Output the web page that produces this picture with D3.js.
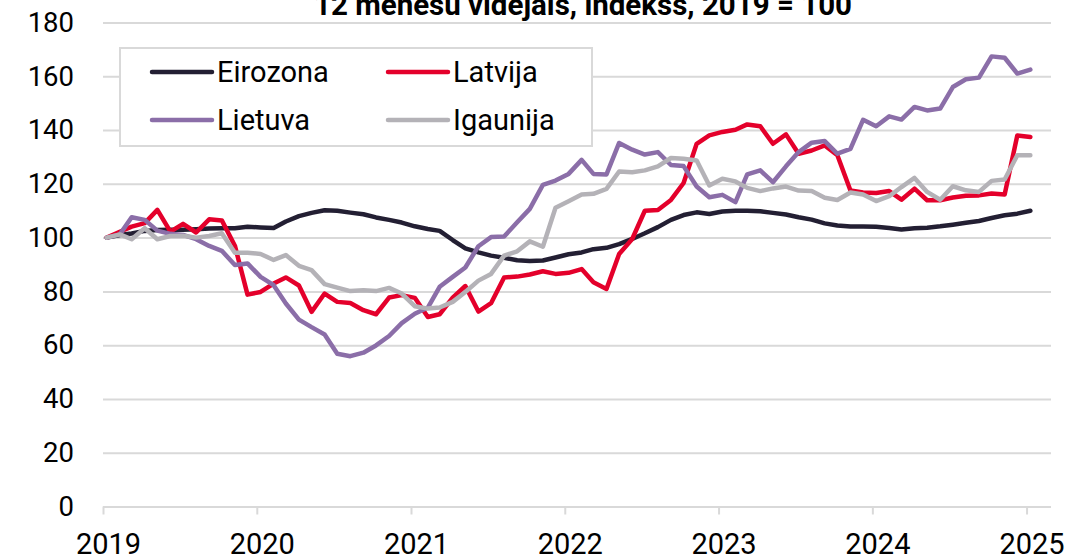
<!DOCTYPE html>
<html>
<head>
<meta charset="utf-8" />
<title>12 mēnešu vidējais</title>
<script src="https://cdn.jsdelivr.net/npm/d3@7"></script>
<style>
  body { margin: 0; background: #fff; }
  svg { display: block; font-family: Roboto, "Noto Sans", sans-serif; }
  .grid line { stroke: #d9d9d9; stroke-width: 2px; }
  .grid text { font-family: Roboto, "Noto Sans", sans-serif; font-size: 27.5px; fill: #000; }
  .xaxis text { font-family: Roboto, "Noto Sans", sans-serif; font-size: 29px; fill: #000; }
  .xaxis line { stroke: #d9d9d9; stroke-width: 2px; }
  .series { fill: none; stroke-width: 4.5px; stroke-linejoin: round; stroke-linecap: round; }
</style>
</head>
<body>
<svg id="chart" width="1092" height="558"></svg>
<script>
// monthly points, Jan 2019 .. Jan 2025
var months = d3.timeMonth.range(new Date(2019, 0, 1), new Date(2025, 1, 1));

var eirozona = [100, 101, 101.5, 102.5, 102.8, 102.9, 102.9, 103.1, 103.4, 103.5, 103.5, 104,
  103.8, 103.6, 106, 108, 109.2, 110.2, 110, 109.3, 108.7, 107.5, 106.6, 105.6,
  104.2, 103.2, 102.5, 99.1, 96, 94.5, 93.3, 92.5, 91.6, 91.3, 91.5, 92.6,
  93.8, 94.5, 95.7, 96.2, 97.6, 99.5, 101.6, 103.9, 106.6, 108.4, 109.4, 108.8,
  109.7, 110, 110, 109.8, 109.2, 108.6, 107.6, 106.7, 105.3, 104.5, 104.1, 104.1,
  104, 103.6, 103, 103.5, 103.7, 104.2, 104.8, 105.5, 106.2, 107.3, 108.3, 108.9,
  110];
var latvija = [100, 102.2, 104.1, 105.4, 110.3, 102.2, 105.1, 101.9, 106.8, 106.4, 97, 78.8,
  79.8, 82.9, 85.2, 82.2, 72.4, 79.2, 76.1, 75.7, 73, 71.5, 77.7, 78.6,
  77.6, 70.5, 71.5, 77.7, 82, 72.5, 75.6, 85.2, 85.5, 86.3, 87.5, 86.5,
  86.9, 88.3, 83.4, 80.9, 93.9, 99.5, 110, 110.3, 114, 120.3, 134.9, 138,
  139.3, 140.1, 142.1, 141.4, 134.9, 138.4, 131.2, 132.4, 134.3, 130.6, 117.5, 116.8,
  116.6, 117.3, 114.1, 118.2, 113.9, 113.9, 114.9, 115.6, 115.7, 116.4, 116, 138,
  137.4];
var lietuva = [100, 101.2, 107.6, 106.6, 102.6, 101.4, 101, 99.4, 96.9, 95.1, 89.8, 90.4,
  85.4, 82.3, 75.5, 69.5, 66.7, 64, 56.8, 55.9, 57.2, 59.9, 63.4, 68.2,
  71.7, 74, 81.7, 85.4, 88.9, 96.8, 100.2, 100.4, 105.7, 110.7, 119.6, 121.2,
  123.7, 128.9, 123.7, 123.5, 135.2, 132.7, 130.9, 131.8, 127, 126.6, 119, 115,
  115.9, 113.2, 123.5, 125, 120.6, 126.5, 131.8, 135.3, 135.9, 131.2, 133, 143.8,
  141.4, 145.1, 143.9, 148.6, 147.3, 148, 156, 158.9, 159.5, 167.4, 166.9, 161,
  162.5];
var igaunija = [100, 101.2, 99.4, 103.5, 99.4, 100.6, 100.7, 100, 100.6, 101.6, 94.4, 94.4,
  93.9, 91.7, 93.5, 89.5, 87.9, 82.7, 81.4, 80.1, 80.4, 80.1, 81.3, 79.2,
  74.5, 73.6, 74, 76.1, 79.8, 84, 86.5, 93.3, 94.9, 98.6, 96.6, 111.1,
  113.5, 116, 116.3, 118.1, 124.6, 124.3, 125, 126.5, 129.6, 129.3, 128.7, 119.4,
  121.9, 120.9, 118.5, 117.3, 118.3, 119, 117.5, 117.3, 114.8, 114, 116.8, 116,
  113.6, 115.4, 118.8, 122.2, 117, 114.1, 119.1, 117.6, 117, 121.1, 121.6, 130.6,
  130.6];

var seriesNames = ['Eirozona', 'Latvija', 'Lietuva', 'Igaunija'];
var seriesData = [eirozona, latvija, lietuva, igaunija];
var seriesColors = ['#231f33', '#e4002b', '#8b6ea8', '#b4b2b7'];
var yTicks = [0, 20, 40, 60, 80, 100, 120, 140, 160, 180];
var title = '12 mēnešu vidējais, indekss, 2019 = 100';

var svg = d3.select('#chart'),
  plotLeft = 103, plotRight = 1051, plotTop = 22.5, plotBottom = 506.5;

var x = d3.scaleTime()
  .domain([new Date(2019, 0, 1), new Date(2025, 1, 28)])
  .range([plotLeft, plotRight]);
var y = d3.scaleLinear().domain([0, 180]).range([plotBottom, plotTop]);

// gridlines + y labels
svg.append('g')
  .attr('class', 'grid')
  .attr('transform', 'translate(' + plotLeft + ',0)')
  .call(d3.axisLeft(y).tickValues(yTicks).tickSize(-(plotRight - plotLeft)).tickPadding(29))
  .call(function(g) { g.select('.domain').remove(); });

// x axis: tick marks below the zero line, labels sit a little right of the tick
svg.append('g')
  .attr('class', 'xaxis')
  .attr('transform', 'translate(0,' + plotBottom + ')')
  .call(d3.axisBottom(x).ticks(d3.timeYear.every(1)).tickFormat(d3.timeFormat('%Y')).tickSize(8).tickPadding(19))
  .call(function(g) {
    g.select('.domain').remove();
    g.selectAll('text').attr('x', 5);
  });

var line = d3.line()
  .x(function(d, i) { return x(new Date(months[i].getFullYear(), months[i].getMonth(), 10)); })
  .y(function(d) { return y(d); });

svg.append('g').selectAll('path')
  .data(seriesData)
  .enter().append('path')
  .attr('class', 'series')
  .attr('stroke', function(d, i) { return seriesColors[i]; })
  .attr('d', line);

// title, top clipped like the original
svg.append('text')
  .attr('x', 583).attr('y', 15)
  .attr('text-anchor', 'middle')
  .style('font-weight', 'bold')
  .style('font-size', '29.5px')
  .text(title);

// legend
var legend = svg.append('g');
legend.append('rect')
  .attr('x', 120).attr('y', 48).attr('width', 472).attr('height', 98)
  .attr('fill', '#fff').attr('stroke', '#d9d9d9').attr('stroke-width', 2);

var items = legend.selectAll('g.item')
  .data(seriesNames)
  .enter().append('g')
  .attr('class', 'item')
  .attr('transform', function(d, i) {
    return 'translate(' + (i % 2 ? 388 : 152) + ',' + (i < 2 ? 72 : 120) + ')';
  });
items.append('line')
  .attr('x1', 0).attr('x2', 60)
  .attr('stroke', function(d, i) { return seriesColors[i]; })
  .attr('stroke-width', 4.5).attr('stroke-linecap', 'round');
items.append('text')
  .attr('x', 65).attr('y', 10)
  .style('font-size', '29px')
  .text(function(d) { return d; });
</script>
</body>
</html>
